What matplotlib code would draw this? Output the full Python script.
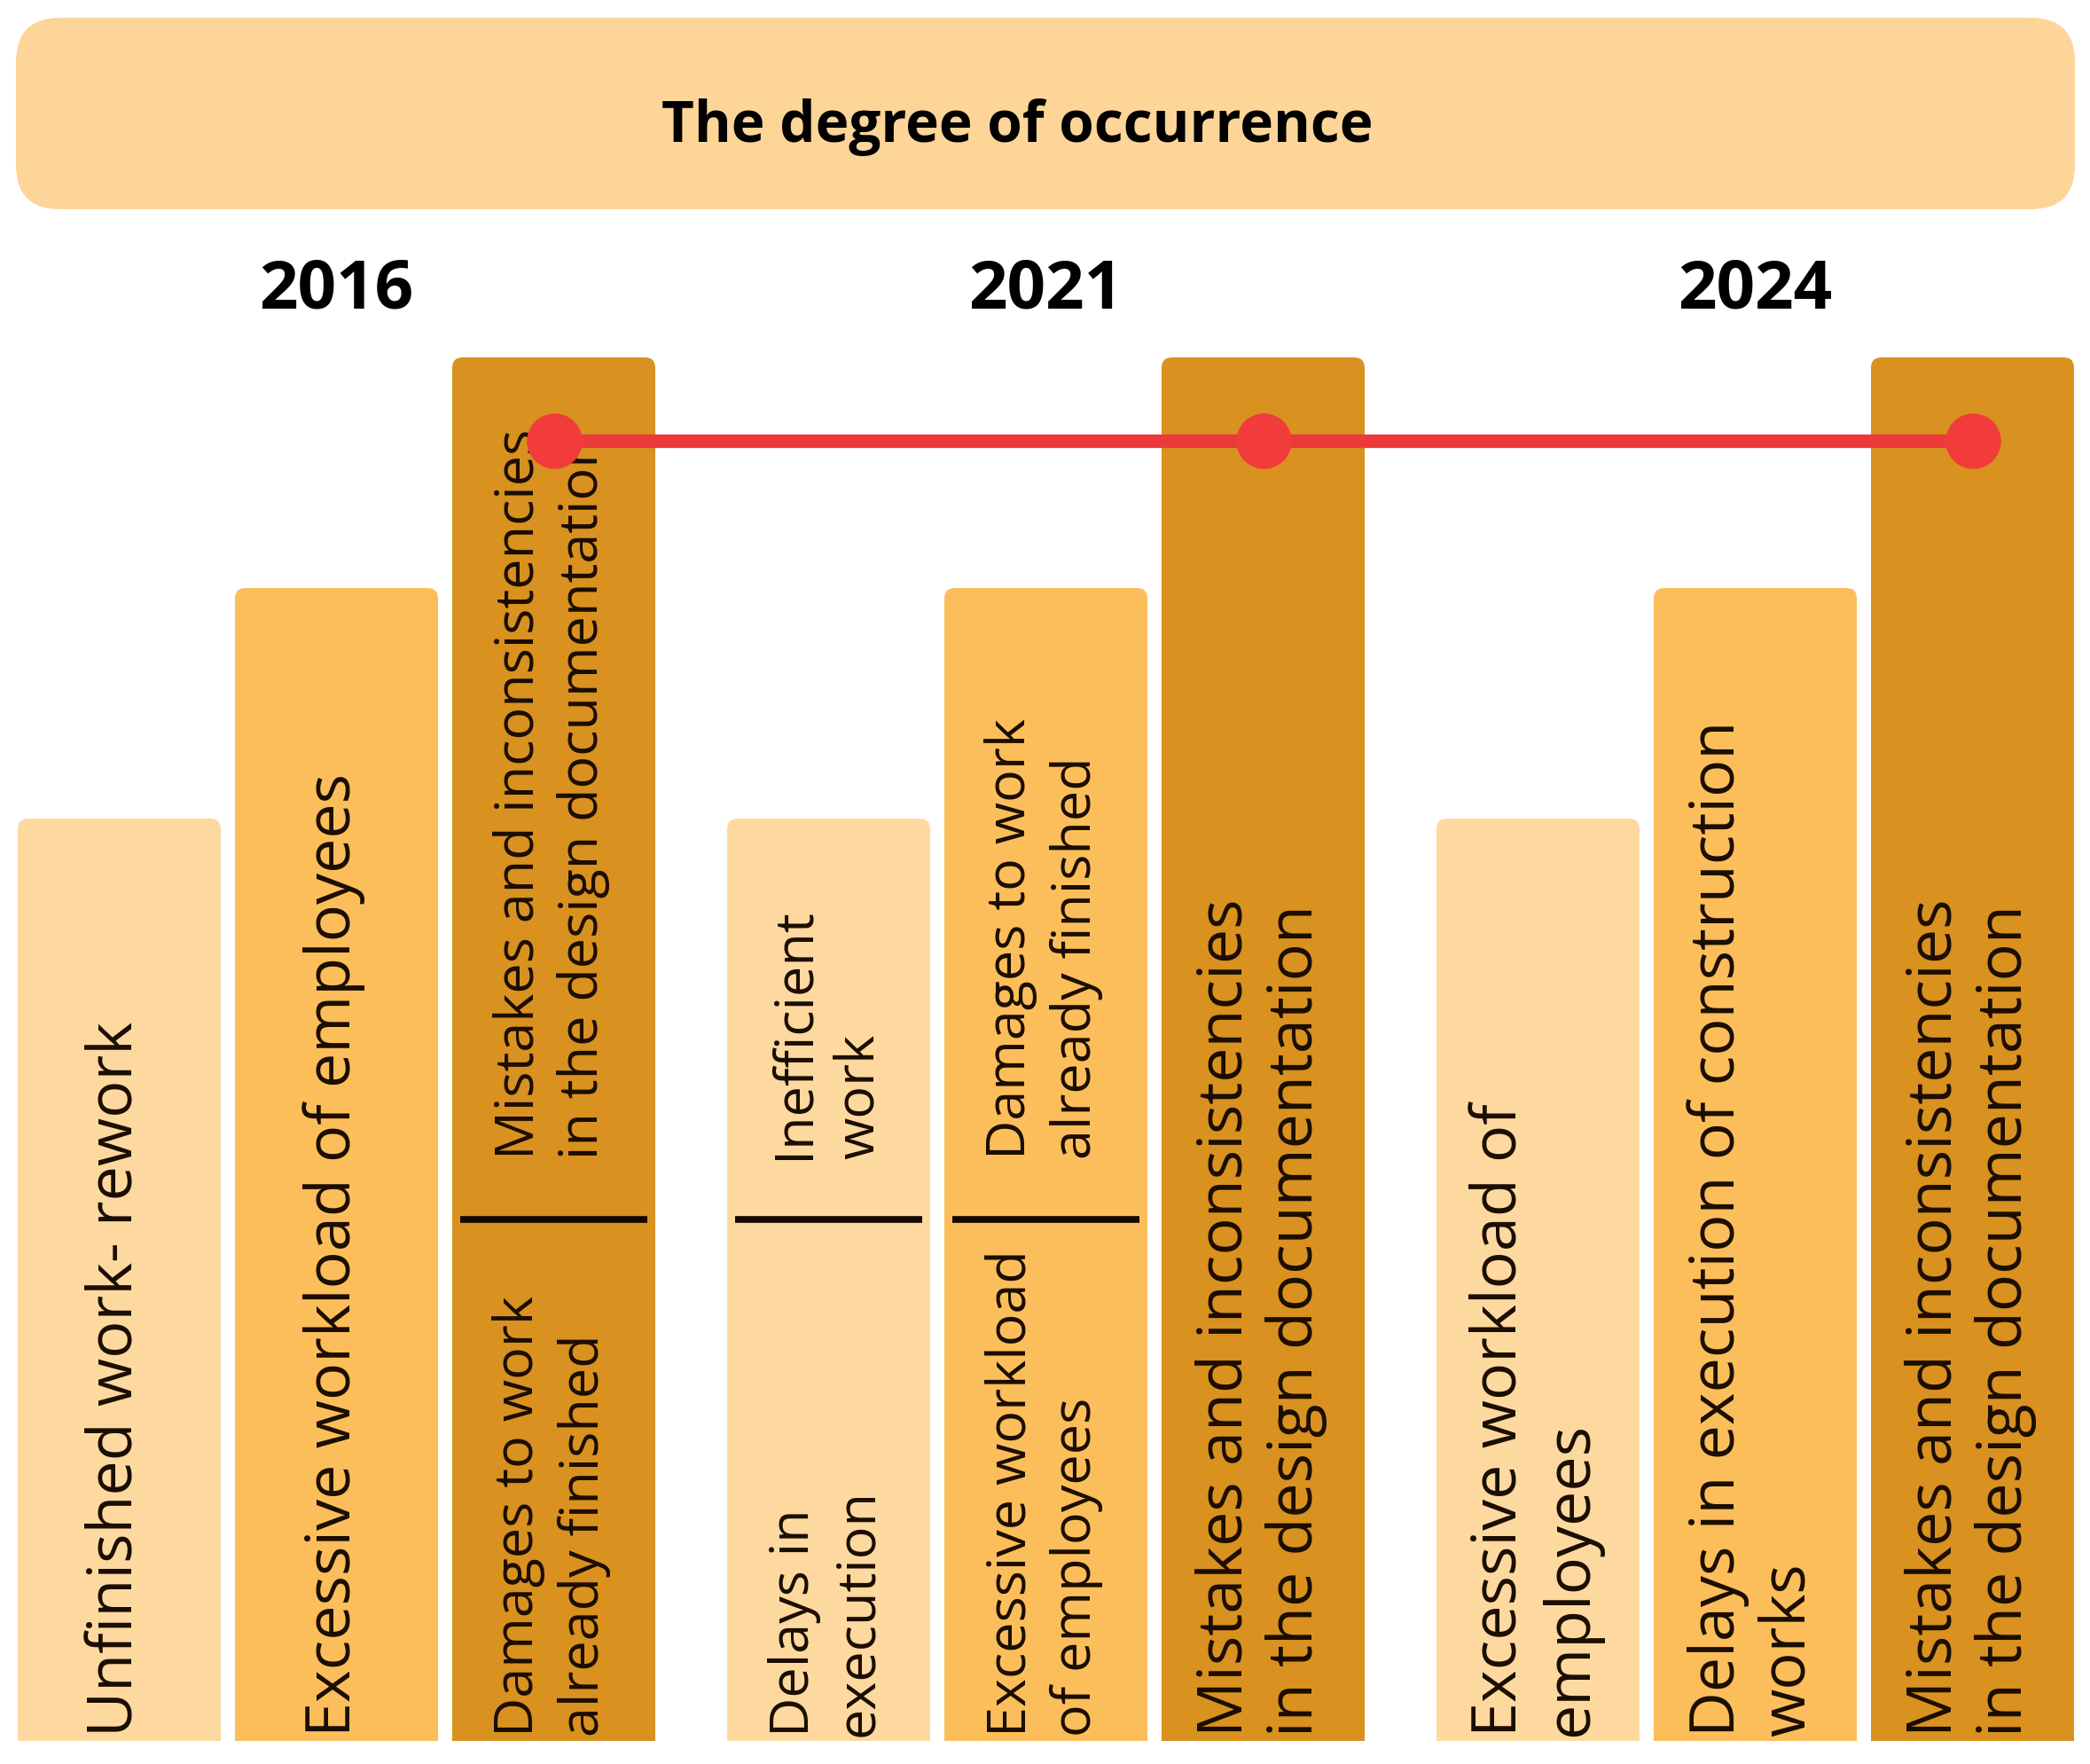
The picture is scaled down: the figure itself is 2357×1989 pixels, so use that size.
import numpy as np
import matplotlib.pyplot as plt
from matplotlib.patches import FancyBboxPatch

plt.rcParams['font.family'] = ['Open Sans', 'DejaVu Sans']

title = "The degree of occurrence"
years = ["2016", "2021", "2024"]
degree = [[4, 5, 6], [4, 5, 6], [4, 5, 6]]
labels_low = [
    ["Unfinished work- rework", "Excessive workload of employees", "Damages to work\nalready finished"],
    ["Delays in\nexecution", "Excessive workload\nof employees", "Mistakes and inconsistencies\nin the design documentation"],
    ["Excessive workload of\nemployees", "Delays in execution of construction\nworks", "Mistakes and inconsistencies\nin the design documentation"],
]
labels_up = [
    [None, None, "Mistakes and inconsistencies\nin the design documentation"],
    ["Inefficient\nwork", "Damages to work\nalready finished", None],
    [None, None, None],
]
colors = ["#FDD9A0", "#FCBE5B", "#D9911F"]
banner_col = "#FDD599"
red = "#EC3A3A"

# layout in pixels
W, H = 2357, 1990
x0, bw, bstep, gstep = 20, 229, 245, 800
base_px, unit_px = 1964, 260

def lv(py):
    return (base_px - py) / unit_px

fig = plt.figure(figsize=(W / 100, H / 100), dpi=100)
ax = fig.add_axes([0, 0, 1, 1])
ax.set_xlim(0, W)
ax.set_ylim(lv(H), lv(0))
ax.axis("off")

# banner + title
ax.add_patch(FancyBboxPatch((18, lv(237)), 2322, lv(21) - lv(237),
                            boxstyle="round,pad=0,rounding_size=50",
                            mutation_aspect=1 / unit_px, fc=banner_col, ec="none"))
ax.text(1147, lv(144), title, fontsize=46, fontweight="bold", ha="center", va="center")

split_lv = 2.26
txt_col = "#1a0d00"
for g in range(3):
    gx = x0 + g * gstep
    ax.text(gx + (2 * bstep + bw) / 2, lv(328), years[g], fontsize=55,
            fontweight="bold", ha="center", va="center")
    for b in range(3):
        left = gx + b * bstep
        h = degree[g][b]
        c = colors[b]
        ax.bar(left, h - 0.2, width=bw, align="edge", color=c, zorder=1)
        ax.add_patch(FancyBboxPatch((left, 0), bw, h, boxstyle="round,pad=0,rounding_size=12",
                                    mutation_aspect=1 / unit_px, fc=c, ec="none", zorder=1))
        up = labels_up[g][b]
        fs = 44 if up else 50.5
        ls = 1.28 if up else 1.18
        ax.text(left + 112, 0.023, labels_low[g][b], fontsize=fs, rotation=90,
                rotation_mode="anchor", ha="left", va="center", multialignment="left",
                linespacing=ls, color=txt_col, zorder=2)
        if up:
            ax.plot([left + 9, left + bw - 9], [split_lv, split_lv], color="#140800",
                    lw=5.5, solid_capstyle="butt", zorder=2)
            ax.text(left + 112, split_lv + 0.265, up, fontsize=44, rotation=90,
                    rotation_mode="anchor", ha="left", va="center", multialignment="left",
                    linespacing=1.28, color=txt_col, zorder=2)

# red line connecting the top factor of each year
top_x = [x0 + g * gstep + 2 * bstep + bw / 2 for g in range(3)]
top_y = [max(d) - 0.36 for d in degree]
ax.plot(top_x, top_y, color=red, lw=11, marker="o", markersize=45,
        markerfacecolor="#F23B3B", markeredgecolor="none", zorder=4)

fig.savefig("out.png", dpi=100, facecolor="white")
